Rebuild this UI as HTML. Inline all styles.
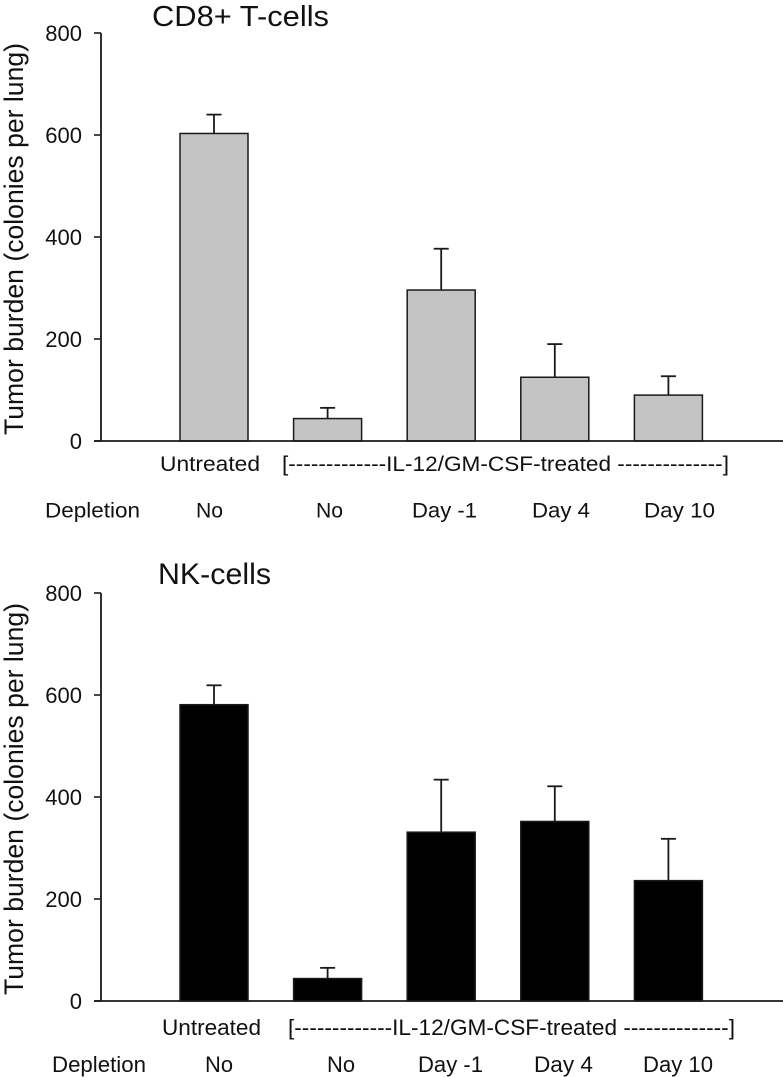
<!DOCTYPE html>
<html lang="en">
<head>
<meta charset="utf-8">
<title>Tumor burden charts</title>
<style>
html,body{margin:0;padding:0;background:#fff;}
svg{display:block;}
text{font-family:"Liberation Sans",Arial,sans-serif;fill:#111;}
.lab{font-size:21.5px;}
.labb{font-size:22.5px;}
.tick{font-size:22px;text-anchor:end;}
.title{font-size:29px;}
.titleb{font-size:30px;}
.yt{font-size:27px;}
</style>
</head>
<body>
<svg id="figure" xmlns="http://www.w3.org/2000/svg" width="783" height="1077" viewBox="0 0 783 1077">
  <g id="panel-top">
    <text class="title" x="152" y="26" textLength="177" lengthAdjust="spacingAndGlyphs">CD8+ T-cells</text>
    <text class="yt" transform="translate(23,435) rotate(-90)" textLength="392" lengthAdjust="spacingAndGlyphs">Tumor burden (colonies per lung)</text>
    <text class="lab" x="160" y="471" textLength="100" lengthAdjust="spacingAndGlyphs">Untreated</text>
    <text class="lab" x="282" y="471" textLength="447" lengthAdjust="spacingAndGlyphs">[-------------IL-12/GM-CSF-treated --------------]</text>
    <text class="lab" x="45" y="517.5" textLength="95" lengthAdjust="spacingAndGlyphs">Depletion</text>
    <text class="lab" x="196" y="517.5" textLength="27" lengthAdjust="spacingAndGlyphs">No</text>
    <text class="lab" x="316" y="517.5" textLength="27" lengthAdjust="spacingAndGlyphs">No</text>
    <text class="lab" x="412" y="517.5" textLength="65" lengthAdjust="spacingAndGlyphs">Day -1</text>
    <text class="lab" x="532" y="517.5" textLength="58" lengthAdjust="spacingAndGlyphs">Day 4</text>
    <text class="lab" x="644" y="517.5" textLength="71" lengthAdjust="spacingAndGlyphs">Day 10</text>
  </g>
  <g id="panel-bottom">
    <text class="titleb" x="158" y="584" textLength="113" lengthAdjust="spacingAndGlyphs">NK-cells</text>
    <text class="yt" transform="translate(23,995) rotate(-90)" textLength="392" lengthAdjust="spacingAndGlyphs">Tumor burden (colonies per lung)</text>
    <text class="labb" x="162" y="1035" textLength="99" lengthAdjust="spacingAndGlyphs">Untreated</text>
    <text class="labb" x="288" y="1035" textLength="447" lengthAdjust="spacingAndGlyphs">[-------------IL-12/GM-CSF-treated --------------]</text>
    <text class="labb" x="52" y="1072" textLength="94" lengthAdjust="spacingAndGlyphs">Depletion</text>
    <text class="labb" x="205" y="1072" textLength="28" lengthAdjust="spacingAndGlyphs">No</text>
    <text class="labb" x="327" y="1072" textLength="28" lengthAdjust="spacingAndGlyphs">No</text>
    <text class="labb" x="418" y="1072" textLength="65" lengthAdjust="spacingAndGlyphs">Day -1</text>
    <text class="labb" x="534" y="1072" textLength="59" lengthAdjust="spacingAndGlyphs">Day 4</text>
    <text class="labb" x="643" y="1072" textLength="70" lengthAdjust="spacingAndGlyphs">Day 10</text>
  </g>
</svg>
<script>
const groups = ["Untreated", "No depletion", "Day -1", "Day 4", "Day 10"];
const yTicks = [0, 200, 400, 600, 800];
const cd8Means = [603, 44, 296, 125, 90];
const cd8ErrorTops = [640, 65, 377, 190, 127];
const nkMeans = [581, 44, 331, 352, 236];
const nkErrorTops = [619, 65, 434, 421, 318];

const NS = "http://www.w3.org/2000/svg";
const AXIS_X = 101;
const AXIS_END_X = 783;
const TOP_OF_AXIS_VALUE = 800;
const AXIS_HEIGHT = 408;
const FIRST_BAR_CENTER = 214;
const BAR_STEP = 113.6;
const BAR_WIDTH = 68;
const CAP_HALF = 7.5;

function xScale(i) {
  return FIRST_BAR_CENTER + i * BAR_STEP;
}
function yScale(value, zeroY) {
  return zeroY - value / TOP_OF_AXIS_VALUE * AXIS_HEIGHT;
}
function makeLine(parent, x1, y1, x2, y2, width) {
  const el = document.createElementNS(NS, "line");
  el.setAttribute("x1", x1);
  el.setAttribute("y1", y1);
  el.setAttribute("x2", x2);
  el.setAttribute("y2", y2);
  el.setAttribute("stroke", "#1a1a1a");
  el.setAttribute("stroke-width", width);
  parent.appendChild(el);
  return el;
}
function drawPanel(parent, prefix, means, errorTops, zeroY, fill) {
  means.forEach(function (value, i) {
    const cx = xScale(i);
    const yBar = yScale(value, zeroY);
    const yErr = yScale(errorTops[i], zeroY);

    const stem = makeLine(parent, cx, yBar, cx, yErr, 1.8);
    
    

    const cap = makeLine(parent, cx - CAP_HALF, yErr, cx + CAP_HALF, yErr, 1.8);
    
    

    const bar = document.createElementNS(NS, "rect");
    bar.setAttribute("x", cx - BAR_WIDTH / 2);
    bar.setAttribute("y", yBar);
    bar.setAttribute("width", BAR_WIDTH);
    bar.setAttribute("height", zeroY - yBar);
    bar.setAttribute("fill", fill);
    bar.setAttribute("stroke", "#1a1a1a");
    bar.setAttribute("stroke-width", 1.5);
    
    
    bar.setAttribute("aria-label", prefix + " " + groups[i]);
    parent.appendChild(bar);
  });

  const yAxis = makeLine(parent, AXIS_X, yScale(TOP_OF_AXIS_VALUE, zeroY), AXIS_X, zeroY, 1.8);
  
  

  const xAxis = makeLine(parent, AXIS_X - 7, zeroY, AXIS_END_X, zeroY, 1.8);
  
  

  yTicks.forEach(function (tick) {
    const y = yScale(tick, zeroY);

    const mark = makeLine(parent, AXIS_X - 7, y, AXIS_X, y, 1.6);
    
    

    const label = document.createElementNS(NS, "text");
    label.setAttribute("class", "tick");
    label.setAttribute("x", 82);
    label.setAttribute("y", y + 8);
    
    
    label.textContent = tick;
    parent.appendChild(label);
  });
}
drawPanel(document.getElementById("panel-top"), "CD8", cd8Means, cd8ErrorTops, 441, "#c4c4c4");
drawPanel(document.getElementById("panel-bottom"), "NK", nkMeans, nkErrorTops, 1001, "#000000");
</script>
</body>
</html>
